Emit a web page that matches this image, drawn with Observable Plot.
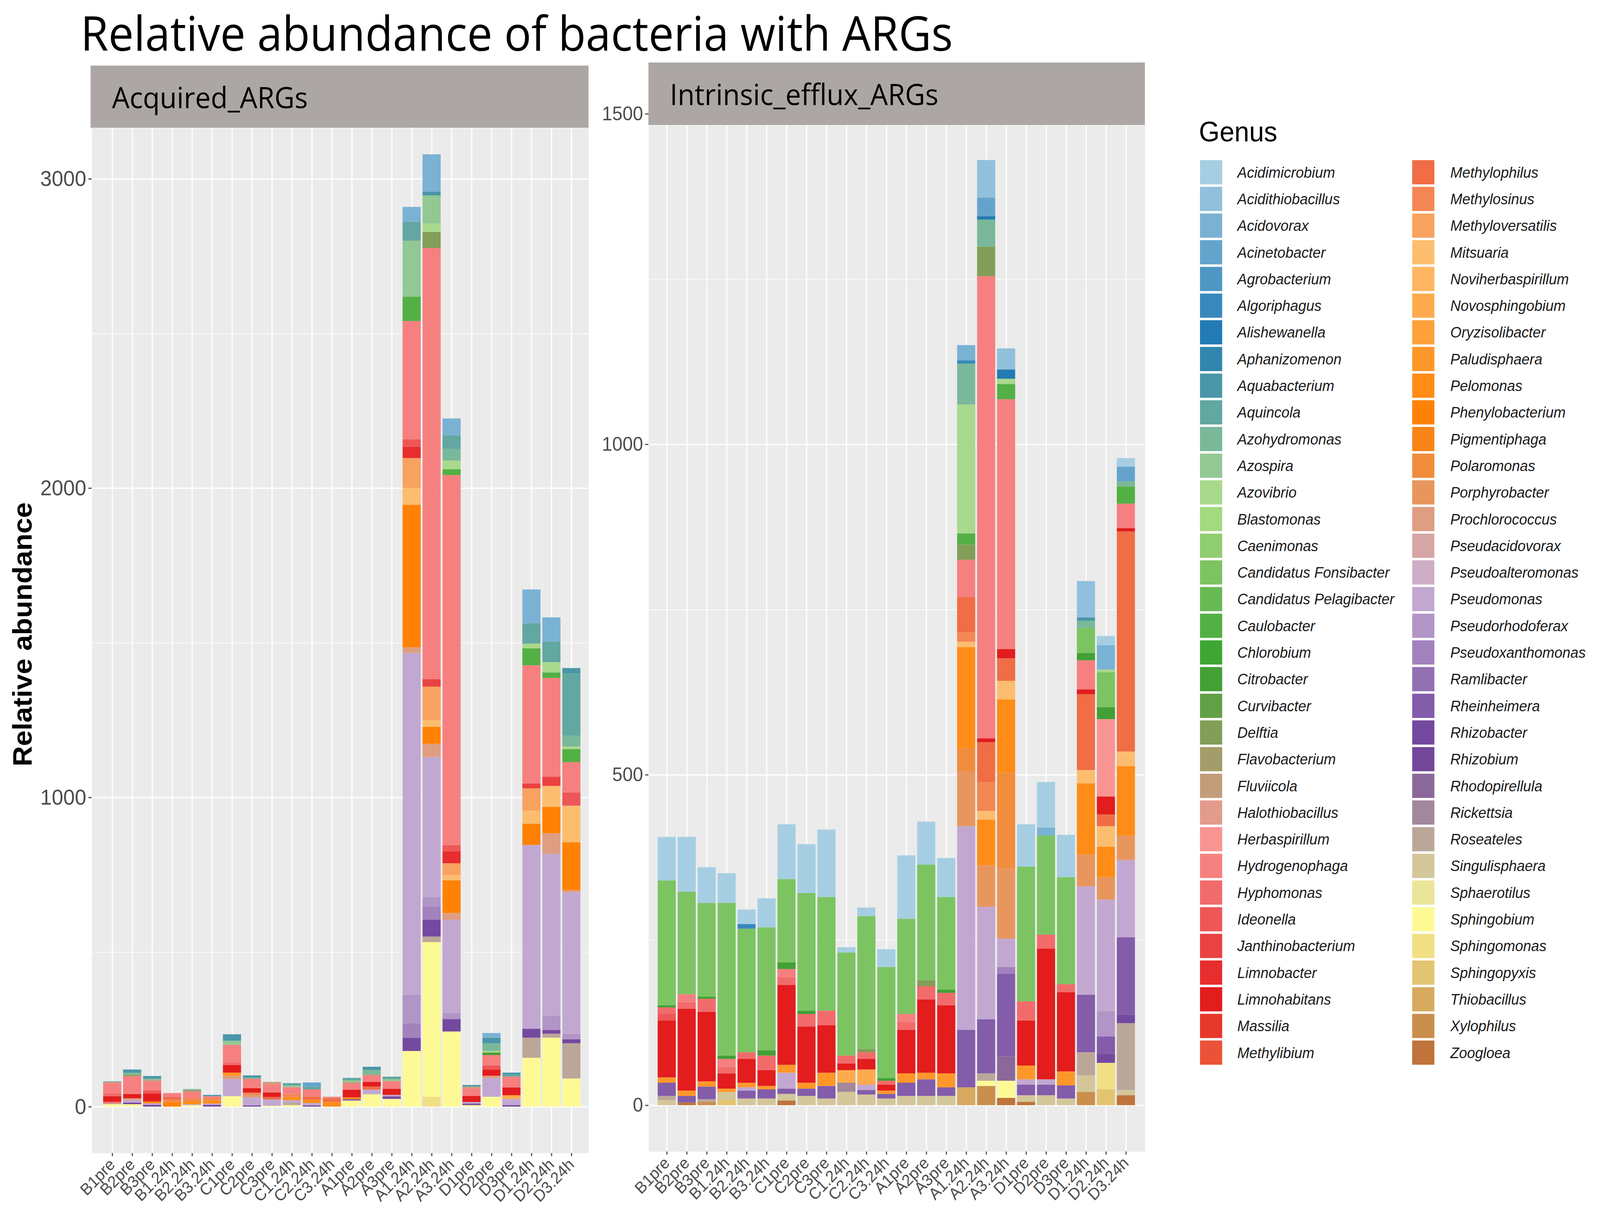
<!DOCTYPE html>
<html><head><meta charset="utf-8">
<script src="https://cdn.jsdelivr.net/npm/d3@7"></script>
<script src="https://cdn.jsdelivr.net/npm/@observablehq/plot@0.6"></script>
<style>
html,body{margin:0;padding:0;background:#fff;overflow:hidden;}
#root{position:relative;width:4328px;height:3126px;overflow:hidden;background:#fff;transform-origin:0 0;}
#root > *{position:absolute;}
.strip{background:#aca7a5;display:flex;align-items:center;font-family:'Open Sans',sans-serif;font-size:75px;line-height:normal;color:#000;box-sizing:border-box;}
</style></head><body><div id="root"></div><script>
// ---------- categories ----------
const samples = ["B1pre","B2pre","B3pre","B1.24h","B2.24h","B3.24h","C1pre","C2pre","C3pre","C1.24h","C2.24h","C3.24h","A1pre","A2pre","A3pre","A1.24h","A2.24h","A3.24h","D1pre","D2pre","D3pre","D1.24h","D2.24h","D3.24h"];
const genera = ["Acidimicrobium","Acidithiobacillus","Acidovorax","Acinetobacter","Agrobacterium","Algoriphagus","Alishewanella","Aphanizomenon","Aquabacterium","Aquincola","Azohydromonas","Azospira","Azovibrio","Blastomonas","Caenimonas","Candidatus Fonsibacter","Candidatus Pelagibacter","Caulobacter","Chlorobium","Citrobacter","Curvibacter","Delftia","Flavobacterium","Fluviicola","Halothiobacillus","Herbaspirillum","Hydrogenophaga","Hyphomonas","Ideonella","Janthinobacterium","Limnobacter","Limnohabitans","Massilia","Methylibium","Methylophilus","Methylosinus","Methyloversatilis","Mitsuaria","Noviherbaspirillum","Novosphingobium","Oryzisolibacter","Paludisphaera","Pelomonas","Phenylobacterium","Pigmentiphaga","Polaromonas","Porphyrobacter","Prochlorococcus","Pseudacidovorax","Pseudoalteromonas","Pseudomonas","Pseudorhodoferax","Pseudoxanthomonas","Ramlibacter","Rheinheimera","Rhizobacter","Rhizobium","Rhodopirellula","Rickettsia","Roseateles","Singulisphaera","Sphaerotilus","Sphingobium","Sphingomonas","Sphingopyxis","Thiobacillus","Xylophilus","Zoogloea"];
const facetTitles = ["Acquired_ARGs","Intrinsic_efflux_ARGs"];
const acquiredTicks = [0,1000,2000,3000];
const intrinsicTicks = [0,500,1000,1500];

// ---------- Acquired_ARGs values (genus: relative abundance) ----------
const acq_B1pre = {Sphingobium:8, Pseudomonas:3, Methylophilus:5, Limnohabitans:18, Hyphomonas:10, Hydrogenophaga:33, Fluviicola:3, Aquincola:2};
const acq_B2pre = {Sphingobium:8, Rhizobium:5, Pseudomonas:8, Prochlorococcus:6, Limnohabitans:14, Hydrogenophaga:58, Delftia:4, Azohydromonas:7, Aquabacterium:10};
const acq_B3pre = {Rhizobacter:6, Pseudomonas:5, Phenylobacterium:6, Limnohabitans:25, Ideonella:10, Hydrogenophaga:30, Fluviicola:5, Azohydromonas:4, Aquabacterium:8};
const acq_B1_24h = {Phenylobacterium:15, Methylosinus:8, Methylophilus:6, Hydrogenophaga:13, Janthinobacterium:2};
const acq_B2_24h = {Sphingobium:5, Pseudomonas:3, Pelomonas:10, Methylosinus:10, Hydrogenophaga:20, Flavobacterium:6, Azohydromonas:3};
const acq_B3_24h = {Rhizobacter:6, Pseudomonas:4, Pelomonas:10, Methylosinus:8, Hydrogenophaga:6, Aquabacterium:4};
const acq_C1pre = {Sphingobium:34, Pseudomonas:55, Prochlorococcus:10, Paludisphaera:11, Limnohabitans:25, Hyphomonas:8, Hydrogenophaga:57, Azospira:13, Aquabacterium:21};
const acq_C2pre = {Rhizobacter:4, Pseudomonas:25, Prochlorococcus:8, Methylosinus:8, Limnohabitans:15, Hydrogenophaga:30, Azohydromonas:4, Aquabacterium:7};
const acq_C3pre = {Sphingobium:3, Pseudomonas:20, Methylophilus:8, Limnohabitans:15, Hydrogenophaga:28, Fluviicola:6};
const acq_C1_24h = {Sphingobium:5, Roseateles:8, Pseudomonas:8, Pelomonas:10, Methylosinus:10, Hydrogenophaga:22, Azospira:5, Aquincola:8};
const acq_C2_24h = {Rhizobacter:4, Pseudomonas:8, Pelomonas:10, Methylophilus:10, Hydrogenophaga:24, Aquincola:8, Acinetobacter:14};
const acq_C3_24h = {Pelomonas:15, Methylophilus:12, Hydrogenophaga:5};
const acq_A1pre = {Sphingobium:20, Rhizobacter:4, Pelomonas:6, Limnohabitans:25, Hydrogenophaga:20, Fluviicola:5, Azospira:5, Aquincola:8};
const acq_A2pre = {Sphingobium:40, Pseudomonas:15, Methylophilus:10, Limnohabitans:15, Hydrogenophaga:20, Fluviicola:4, Azohydromonas:15, Aquabacterium:10};
const acq_A3pre = {Sphingobium:25, Rhizobacter:8, Pseudomonas:5, Limnohabitans:20, Hydrogenophaga:25, Azospira:6, Aquincola:8};
const acq_A1_24h = {Sphingobium:180, Rhizobacter:43, Pseudoxanthomonas:47, Pseudorhodoferax:92, Pseudomonas:1105, Prochlorococcus:18, Phenylobacterium:461, Mitsuaria:54, Methyloversatilis:97, Limnobacter:37, Ideonella:24, Hydrogenophaga:382, Caulobacter:79, Azospira:181, Aquincola:61, Acidovorax:48};
const acq_A2_24h = {Sphingomonas:32, Sphingobium:500, Roseateles:18, Rhizobacter:54, Pseudoxanthomonas:43, Pseudorhodoferax:30, Pseudomonas:453, Prochlorococcus:43, Phenylobacterium:55, Mitsuaria:21, Methyloversatilis:109, Janthinobacterium:24, Hydrogenophaga:1394, Delftia:52, Azovibrio:27, Azospira:91, Aquabacterium:12, Acidovorax:121};
const acq_A3_24h = {Sphingobium:243, Rhizobacter:40, Pseudorhodoferax:20, Pseudomonas:301, Prochlorococcus:22, Phenylobacterium:106, Mitsuaria:17, Methyloversatilis:38, Limnobacter:38, Ideonella:21, Hydrogenophaga:1196, Caulobacter:19, Azovibrio:28, Azohydromonas:38, Aquincola:43, Acidovorax:55};
const acq_D1pre = {Sphingobium:5, Rhizobacter:5, Pseudomonas:5, Limnohabitans:20, Hydrogenophaga:25, Fluviicola:5, Aquabacterium:5};
const acq_D2pre = {Sphingobium:32, Pseudomonas:60, Prochlorococcus:8, Limnohabitans:20, Ideonella:13, Hydrogenophaga:34, Citrobacter:8, Azovibrio:5, Azohydromonas:25, Aquabacterium:18, Acidovorax:15};
const acq_D3pre = {Rhizobacter:5, Pseudomonas:20, Novosphingobium:12, Limnohabitans:25, Hydrogenophaga:35, Aquincola:8, Aquabacterium:5};
const acq_D1_24h = {Sphingobium:158, Roseateles:65, Rhizobacter:29, Pseudomonas:594, Phenylobacterium:69, Mitsuaria:42, Methyloversatilis:72, Janthinobacterium:16, Hydrogenophaga:382, Caulobacter:55, Azovibrio:15, Aquincola:66, Acidovorax:109};
const acq_D2_24h = {Sphingobium:223, Roseateles:13, Rhizobacter:12, Pseudorhodoferax:47, Pseudomonas:522, Prochlorococcus:67, Phenylobacterium:85, Mitsuaria:68, Janthinobacterium:30, Hydrogenophaga:319, Caulobacter:18, Azovibrio:33, Aquincola:67, Acidovorax:78};
const acq_D3_24h = {Sphingobium:91, Roseateles:114, Rhizobacter:13, Pseudorhodoferax:18, Pseudomonas:457, Prochlorococcus:7, Phenylobacterium:155, Mitsuaria:118, Ideonella:43, Hydrogenophaga:98, Caulobacter:42, Azovibrio:8, Azohydromonas:35, Aquincola:201, Aquabacterium:18};

// ---------- Intrinsic_efflux_ARGs values ----------
const int_B1pre = {Acidimicrobium:66, "Candidatus Fonsibacter":189, Citrobacter:3, Hyphomonas:10, Ideonella:10, Limnohabitans:86, Paludisphaera:8, Rheinheimera:20, Roseateles:6, Singulisphaera:8};
const int_B2pre = {Acidimicrobium:83, "Candidatus Fonsibacter":155, Hydrogenophaga:12, Hyphomonas:10, Limnohabitans:124, Paludisphaera:8, Rheinheimera:10, Zoogloea:4};
const int_B3pre = {Acidimicrobium:54, "Candidatus Fonsibacter":142, Citrobacter:3, Hyphomonas:20, Limnohabitans:105, Paludisphaera:8, Rheinheimera:19, Roseateles:4, Xylophilus:5};
const int_B1_24h = {Acidimicrobium:45, "Candidatus Fonsibacter":231, Citrobacter:5, Hydrogenophaga:12, Hyphomonas:10, Limnohabitans:23, Paludisphaera:5, Singulisphaera:12, Sphingopyxis:8};
const int_B2_24h = {Acidimicrobium:22, Algoriphagus:7, "Candidatus Fonsibacter":187, Hyphomonas:10, Limnohabitans:36, Paludisphaera:7, Pseudomonas:5, Rheinheimera:12, Singulisphaera:10};
const int_B3_24h = {Acidimicrobium:44, "Candidatus Fonsibacter":186, Citrobacter:8, Hyphomonas:22, Limnohabitans:24, Paludisphaera:5, Rheinheimera:14, Singulisphaera:10};
const int_C1pre = {Acidimicrobium:83, "Candidatus Fonsibacter":126, Citrobacter:10, Hydrogenophaga:12, Hyphomonas:12, Limnohabitans:121, Paludisphaera:12, Pseudomonas:24, Rheinheimera:8, Singulisphaera:10, Zoogloea:7};
const int_C2pre = {Acidimicrobium:74, "Candidatus Fonsibacter":178, Citrobacter:5, Hyphomonas:19, Limnohabitans:85, Paludisphaera:9, Rheinheimera:11, Singulisphaera:14};
const int_C3pre = {Acidimicrobium:102, "Candidatus Fonsibacter":172, Hyphomonas:22, Limnohabitans:72, Paludisphaera:20, Rheinheimera:19, Singulisphaera:10};
const int_C1_24h = {Acidimicrobium:8, "Candidatus Fonsibacter":156, Hyphomonas:12, Limnohabitans:10, Novosphingobium:19, Rickettsia:14, Singulisphaera:20};
const int_C2_24h = {Acidimicrobium:13, "Candidatus Fonsibacter":201, Delftia:5, Hyphomonas:10, Limnohabitans:16, Novosphingobium:23, Pseudomonas:8, Rheinheimera:7, Singulisphaera:16};
const int_C3_24h = {Acidimicrobium:27, "Candidatus Fonsibacter":168, Citrobacter:4, Hyphomonas:6, Limnohabitans:9, Paludisphaera:5, Rheinheimera:7, Singulisphaera:10};
const int_A1pre = {Acidimicrobium:96, "Candidatus Fonsibacter":144, Hydrogenophaga:12, Hyphomonas:12, Limnohabitans:66, Paludisphaera:14, Rheinheimera:20, Singulisphaera:14};
const int_A2pre = {Acidimicrobium:65, "Candidatus Fonsibacter":175, Delftia:9, Hyphomonas:20, Limnohabitans:111, Paludisphaera:10, Rheinheimera:25, Singulisphaera:14};
const int_A3pre = {Acidimicrobium:59, "Candidatus Fonsibacter":140, Citrobacter:5, Hyphomonas:19, Limnohabitans:103, Paludisphaera:21, Rheinheimera:13, Singulisphaera:14};
const int_A1_24h = {Acidovorax:23, Algoriphagus:5, Azohydromonas:62, Azovibrio:195, Caulobacter:17, Delftia:23, Hydrogenophaga:56, Methylophilus:54, Methylosinus:14, Mitsuaria:8, Pelomonas:153, Polaromonas:35, Porphyrobacter:83, Pseudomonas:308, Rheinheimera:87, Thiobacillus:27};
const int_A2_24h = {Acidithiobacillus:57, Acinetobacter:28, Alishewanella:5, Azohydromonas:41, Delftia:45, Hydrogenophaga:699, Limnohabitans:6, Methylophilus:60, Methylosinus:44, Mitsuaria:13, Pelomonas:69, Porphyrobacter:63, Pseudomonas:170, Rheinheimera:82, Roseateles:11, Sphingobium:8, Xylophilus:29};
const int_A3_24h = {Acidithiobacillus:32, Alishewanella:14, Azovibrio:8, Caulobacter:23, Hydrogenophaga:378, Limnohabitans:14, Methylophilus:34, Mitsuaria:28, Pelomonas:111, Polaromonas:144, Porphyrobacter:107, Pseudomonas:43, Pseudoxanthomonas:10, Rheinheimera:125, Rhodopirellula:37, Sphingobium:26, Zoogloea:11};
const int_D1pre = {Acidimicrobium:64, "Candidatus Fonsibacter":204, Hyphomonas:29, Limnohabitans:68, Paludisphaera:21, Pseudomonas:8, Rheinheimera:16, Singulisphaera:10, Zoogloea:5};
const int_D2pre = {Acidimicrobium:69, Acidovorax:12, "Candidatus Fonsibacter":150, Hyphomonas:21, Limnohabitans:198, Pseudomonas:8, Rheinheimera:16, Singulisphaera:15};
const int_D3pre = {Acidimicrobium:64, "Candidatus Fonsibacter":162, Hyphomonas:12, Limnohabitans:120, Paludisphaera:21, Rheinheimera:20, Singulisphaera:10};
const int_D1_24h = {Acidithiobacillus:55, Aquabacterium:5, Azohydromonas:11, "Candidatus Fonsibacter":38, Citrobacter:11, Hydrogenophaga:44, Limnohabitans:7, Methylophilus:115, Mitsuaria:20, Pelomonas:108, Porphyrobacter:48, Pseudomonas:164, Rheinheimera:87, Roseateles:35, Singulisphaera:25, Xylophilus:20};
const int_D2_24h = {Acidimicrobium:14, Acidovorax:37, Azovibrio:4, "Candidatus Fonsibacter":53, Citrobacter:18, Herbaspirillum:117, Limnohabitans:27, Methylophilus:18, Mitsuaria:31, Pelomonas:46, Porphyrobacter:34, Pseudomonas:169, Pseudorhodoferax:38, Rheinheimera:26, Rhizobacter:14, Sphingomonas:40, Sphingopyxis:24};
const int_D3_24h = {Acidimicrobium:13, Acinetobacter:22, Azohydromonas:8, Caulobacter:26, Hydrogenophaga:37, Limnohabitans:5, Methylophilus:333, Mitsuaria:22, Pelomonas:105, Porphyrobacter:37, Pseudomonas:117, Rheinheimera:117, Rhizobacter:13, Roseateles:101, Singulisphaera:8, Zoogloea:15};

const acquiredBars = [acq_B1pre,acq_B2pre,acq_B3pre,acq_B1_24h,acq_B2_24h,acq_B3_24h,acq_C1pre,acq_C2pre,acq_C3pre,acq_C1_24h,acq_C2_24h,acq_C3_24h,acq_A1pre,acq_A2pre,acq_A3pre,acq_A1_24h,acq_A2_24h,acq_A3_24h,acq_D1pre,acq_D2pre,acq_D3pre,acq_D1_24h,acq_D2_24h,acq_D3_24h];
const intrinsicBars = [int_B1pre,int_B2pre,int_B3pre,int_B1_24h,int_B2_24h,int_B3_24h,int_C1pre,int_C2pre,int_C3pre,int_C1_24h,int_C2_24h,int_C3_24h,int_A1pre,int_A2pre,int_A3pre,int_A1_24h,int_A2_24h,int_A3_24h,int_D1pre,int_D2pre,int_D3pre,int_D1_24h,int_D2_24h,int_D3_24h];

// ---------- build ----------
const toRows = bars => samples.flatMap((s, i) => Object.entries(bars[i]).map(([genus, value]) => ({sample: s, genus, value})));
const acquiredRows = toRows(acquiredBars);
const intrinsicRows = toRows(intrinsicBars);

const ramp = d3.piecewise(d3.interpolateRgb, d3.schemePaired);
const genusColors = genera.map((g, i) => d3.color(ramp(i / 68)).formatHex());
const stackOrder = genera.slice().reverse();

const root = document.getElementById("root");
// fit the 4328x3126 layout into whatever viewport the page is given
const sx = Math.min(window.innerWidth || 4328, 4328) / 4328;
const sy = Math.min(window.innerHeight || 3126, 3126) / 3126;
root.style.transform = `scale(${sx},${sy})`;

const FONT = "'Liberation Sans', Arial, sans-serif";

function panel(rows, opts) {
  return Plot.plot({
    width: opts.width, height: 3126,
    marginLeft: opts.ml, marginRight: opts.mr, marginTop: opts.mt, marginBottom: opts.mb,
    style: {background: "transparent", fontFamily: FONT, overflow: "visible"},
    x: {domain: samples, range: opts.xrange, paddingInner: 0.1, paddingOuter: 0, align: 0.5, label: null},
    y: {domain: opts.domain, label: null},
    color: {domain: genera, range: genusColors},
    marks: [
      Plot.frame({fill: "#ebebeb", stroke: null}),
      Plot.gridY({ticks: opts.minor, stroke: "white", strokeOpacity: 1, strokeWidth: 1.6}),
      Plot.gridY({ticks: opts.major, stroke: "white", strokeOpacity: 1, strokeWidth: 3.2}),
      Plot.gridX({stroke: "white", strokeOpacity: 1, strokeWidth: 3.2}),
      Plot.barY(rows, {x: "sample", y: "value", fill: "genus", order: stackOrder}),
      Plot.axisY({ticks: opts.ticks, tickFormat: d3.format("d"), tickSize: 9, tickPadding: 6, fontSize: opts.yfs, color: "#4d4d4d", strokeWidth: 3, label: null}),
      Plot.axisX({tickRotate: -45, tickSize: 8, tickPadding: 14, fontSize: 42, color: "#4d4d4d", strokeWidth: 3, label: null})
    ]
  });
}

const left = panel(acquiredRows, {width: 1600, ml: 248, mr: 8, mt: 327, mb: 174, domain: [-150, 3165], yfs: 56,
  xrange: [270, 1579], ticks: acquiredTicks, major: acquiredTicks, minor: [500, 1500, 2500]});
left.style.left = "0px"; left.style.top = "0px";
root.appendChild(left);

const right = panel(intrinsicRows, {width: 1500, ml: 154, mr: 3, mt: 320, mb: 178, domain: [-70, 1483], yfs: 50,
  xrange: [170, 1478], ticks: intrinsicTicks, major: [0, 500, 1000], minor: [250, 750, 1250]});
right.style.left = "1600px"; right.style.top = "0px";
root.appendChild(right);

// strips
function strip(text, x, y, w, h) {
  const d = document.createElement("div");
  d.className = "strip";
  d.style.left = x + "px"; d.style.top = y + "px"; d.style.width = w + "px"; d.style.height = h + "px";
  d.style.paddingLeft = "58px";
  d.textContent = text;
  root.appendChild(d);
}
strip(facetTitles[0], 245, 168, 1347, 159);
strip(facetTitles[1], 1754, 160, 1343, 160);

// title
const title = document.createElement("div");
title.textContent = "Relative abundance of bacteria with ARGs";
Object.assign(title.style, {left: "218px", top: "0px", fontFamily: "'Open Sans', sans-serif", fontSize: "122px", lineHeight: "normal", color: "#000", whiteSpace: "nowrap"});
root.appendChild(title);

// y-axis title
const ytitle = document.createElement("div");
ytitle.textContent = "Relative abundance";
Object.assign(ytitle.style, {left: "61px", top: "1624px", transform: "translate(-50%,-50%) rotate(-90deg)", fontFamily: FONT, fontWeight: "bold", fontSize: "72px", lineHeight: "normal", color: "#000", whiteSpace: "nowrap"});
root.appendChild(ytitle);

// legend
const svg = d3.create("svg").attr("width", 1228).attr("height", 3126).style("left", "3100px").style("top", "0px");
svg.append("text").attr("x", 143).attr("y", 362).attr("font-family", FONT).attr("font-size", 72).attr("fill", "#000").text("Genus");
const perCol = 34;
genera.forEach((g, i) => {
  const col = Math.floor(i / perCol), row = i % perCol;
  const kx = col ? 720 : 146, cy = 441 + row * 68.3;
  svg.append("rect").attr("x", kx).attr("y", cy - 31).attr("width", 60).attr("height", 62).attr("fill", genusColors[i]);
  svg.append("text").attr("x", kx + (col ? 103 : 101)).attr("y", cy).attr("dy", "0.35em")
    .attr("font-family", FONT).attr("font-style", "italic").attr("font-size", 39).attr("fill", "#1a1a1a").text(g);
});
root.appendChild(svg.node());
</script></body></html>
